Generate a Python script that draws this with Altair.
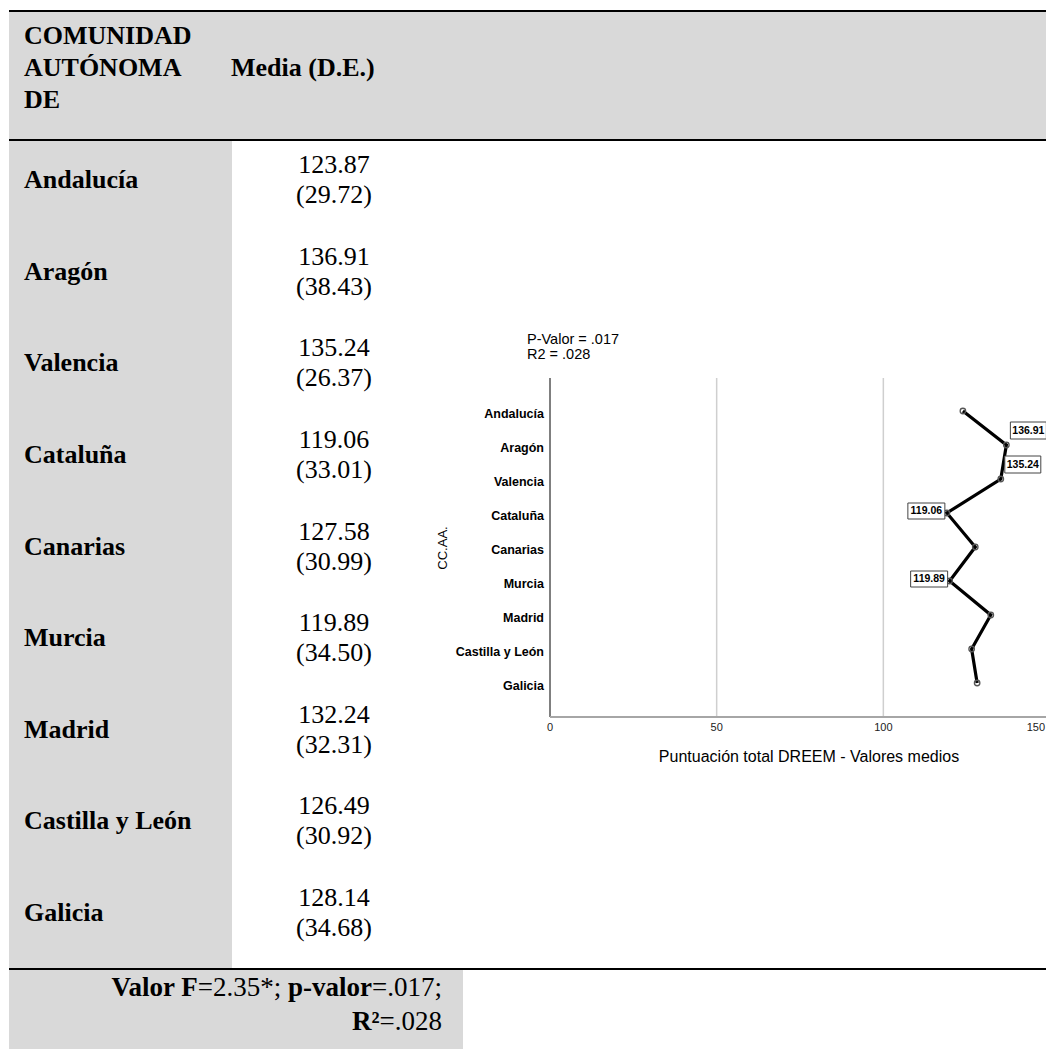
import altair as alt
import pandas as pd

# ---------------- data ----------------
regions = ["Andalucía", "Aragón", "Valencia", "Cataluña", "Canarias",
           "Murcia", "Madrid", "Castilla y León", "Galicia"]
means = [123.87, 136.91, 135.24, 119.06, 127.58, 119.89, 132.24, 126.49, 128.14]
sds = [29.72, 38.43, 26.37, 33.01, 30.99, 34.50, 32.31, 30.92, 34.68]

header_col1 = ["COMUNIDAD", "AUTÓNOMA", "DE"]
header_col2 = "Media (D.E.)"
x_ticks = [0, 50, 100, 150]
grid_vals = [50, 100, 150]
labelled_right = ["Aragón", "Valencia"]
labelled_left = ["Cataluña", "Murcia"]
stats_lines = ["P-Valor = .017", "R2 = .028"]
x_title = "Puntuación total DREEM - Valores medios"
y_title = "CC.AA."

df = pd.DataFrame({
    "region": regions,
    "idx": list(range(len(regions))),
    "mean": means,
    "sd": sds,
    "mean_txt": [f"{m:.2f}" for m in means],
    "sd_txt": [f"({s:.2f})" for s in sds],
    "mean_lbl": [f"{m:.2f}" for m in means],
})
df_right = df[df["region"].isin(labelled_right)]
df_left = df[df["region"].isin(labelled_left)]
ticks_df = pd.DataFrame({"t": x_ticks, "lbl": [str(t) for t in x_ticks]})
ticks_inner = ticks_df.iloc[:-1]
ticks_last = ticks_df.iloc[-1:]
grid_df = pd.DataFrame({"g": grid_vals})
axis_df = pd.DataFrame({"a": [x_ticks[0]], "b": [x_ticks[-1]]})
one = pd.DataFrame({"k": [0]})

W, H = 1038, 1041
GRAY = "#D9D9D9"
SERIF = "Liberation Serif"
SANS = "Liberation Sans"

row_y = alt.Scale(type="point", domain=regions, range=[172, 905], padding=0)
plot_x = alt.Scale(domain=[0, 150], range=[542, 1042], nice=False, zero=False)
plot_y = alt.Scale(domain=[0, 8], range=[403, 675], nice=False, zero=False)

base = alt.Chart(one)

def rect(x1, x2, y1, y2):
    return base.mark_rect(color=GRAY).encode(
        x=alt.value(x1), x2=alt.value(x2), y=alt.value(y1), y2=alt.value(y2))

def hline(y, x1=1, x2=W, w=2, color="black"):
    return base.mark_rule(color=color, strokeWidth=w).encode(
        x=alt.value(x1), x2=alt.value(x2), y=alt.value(y))

def txt(text, x, y, size=26, bold=False, align="left", font=SERIF, **kw):
    return base.mark_text(align=align, baseline="middle", font=font, fontSize=size,
                          fontWeight="bold" if bold else "normal", color="black", **kw).encode(
        x=alt.value(x), y=alt.value(y), text=alt.value(text))

# ---------------- table ----------------
layers = [
    rect(1, W, 4, 131),
    rect(1, 224, 133, 960),
    rect(1, 455, 962, H),
    hline(3), hline(132), hline(961),
    txt(header_col1, 16, 28, bold=True, lineHeight=32),
    txt(header_col2, 223, 60, bold=True),
]

layers.append(alt.Chart(df).mark_text(align="left", baseline="middle", font=SERIF,
                                      fontSize=26, fontWeight="bold", color="black").encode(
    x=alt.value(16), y=alt.Y("region:N", scale=row_y, axis=None), text="region:N"))
layers.append(alt.Chart(df).mark_text(align="center", baseline="middle", font=SERIF,
                                      fontSize=26, color="black", dy=-15).encode(
    x=alt.value(326), y=alt.Y("region:N", scale=row_y, axis=None), text="mean_txt:N"))
layers.append(alt.Chart(df).mark_text(align="center", baseline="middle", font=SERIF,
                                      fontSize=26, color="black", dy=15).encode(
    x=alt.value(326), y=alt.Y("region:N", scale=row_y, axis=None), text="sd_txt:N"))

# footer (mixed bold / regular segments, right aligned)
FS = 27
layers += [
    txt("=.017;", 434, 980, size=FS, align="right"),
    txt("p-valor", 364.0, 980, size=FS, bold=True, align="right"),
    txt("=2.35*;", 273.3, 980, size=FS, align="right"),
    txt("Valor F", 189.8, 980, size=FS, bold=True, align="right"),
    txt("=.028", 434, 1014, size=FS, align="right"),
    txt("R²", 371.5, 1014, size=FS, bold=True, align="right"),
]

# ---------------- chart ----------------
X = lambda f: alt.X(f, scale=plot_x, axis=None)
Y = lambda f: alt.Y(f, scale=plot_y, axis=None)

layers.append(alt.Chart(grid_df).mark_rule(color="#CFCFCF", strokeWidth=1.5).encode(
    x=X("g:Q"), y=alt.value(370), y2=alt.value(709)))
layers.append(alt.Chart(axis_df).mark_rule(color="black", strokeWidth=1).encode(
    x=X("a:Q"), y=alt.value(370), y2=alt.value(709)))
layers.append(alt.Chart(axis_df).mark_rule(color="#A6A6A6", strokeWidth=2).encode(
    x=X("a:Q"), x2="b:Q", y=alt.value(709)))
layers.append(alt.Chart(ticks_inner).mark_text(font=SANS, fontSize=11, color="#222222",
                                               baseline="middle").encode(
    x=X("t:Q"), y=alt.value(720), text="lbl:N"))
layers.append(alt.Chart(ticks_last).mark_text(font=SANS, fontSize=11, color="#222222",
                                              baseline="middle", align="right", dx=-5).encode(
    x=X("t:Q"), y=alt.value(720), text="lbl:N"))
layers.append(alt.Chart(df).mark_text(font=SANS, fontSize=12.5, fontWeight="bold",
                                      align="right", baseline="middle", dy=3, color="black").encode(
    x=alt.value(536), y=Y("idx:Q"), text="region:N"))
layers.append(alt.Chart(df).mark_line(color="black", strokeWidth=3.2).encode(
    x=X("mean:Q"), y=Y("idx:Q"), order="idx:Q"))
layers.append(alt.Chart(df).mark_point(shape="circle", filled=False, color="#555555",
                                       size=30, strokeWidth=1.3, opacity=1).encode(
    x=X("mean:Q"), y=Y("idx:Q")))

# value boxes
layers.append(alt.Chart(df_right).mark_rect(fill="white", stroke="#444444", strokeWidth=1,
                                            xOffset=4, x2Offset=40, yOffset=-23, y2Offset=-6).encode(
    x=X("mean:Q"), x2="mean:Q", y=Y("idx:Q"), y2="idx:Q"))
layers.append(alt.Chart(df_right).mark_text(font=SANS, fontSize=10.5, fontWeight="bold",
                                            dx=22, dy=-14.5, baseline="middle", color="black").encode(
    x=X("mean:Q"), y=Y("idx:Q"), text="mean_lbl:N"))
layers.append(alt.Chart(df_left).mark_rect(fill="white", stroke="#444444", strokeWidth=1,
                                           xOffset=-39, x2Offset=-2, yOffset=-10, y2Offset=6).encode(
    x=X("mean:Q"), x2="mean:Q", y=Y("idx:Q"), y2="idx:Q"))
layers.append(alt.Chart(df_left).mark_text(font=SANS, fontSize=10.5, fontWeight="bold",
                                           dx=-20.5, dy=-2, baseline="middle", color="black").encode(
    x=X("mean:Q"), y=Y("idx:Q"), text="mean_lbl:N"))

# chart titles
layers += [
    txt(stats_lines, 519, 332, size=14.5, font=SANS, lineHeight=15),
    txt(x_title, 801, 749, size=16, font=SANS, align="center"),
    txt(y_title, 435, 540, size=13, font=SANS, align="center", angle=270),
]

chart = alt.layer(*layers).resolve_scale(x="independent", y="independent").properties(
    width=W, height=H, autosize=alt.AutoSizeParams(type="none"), padding=0
).configure_view(stroke=None)

chart.save("out.html", embed_options={"renderer": "svg", "actions": False})
